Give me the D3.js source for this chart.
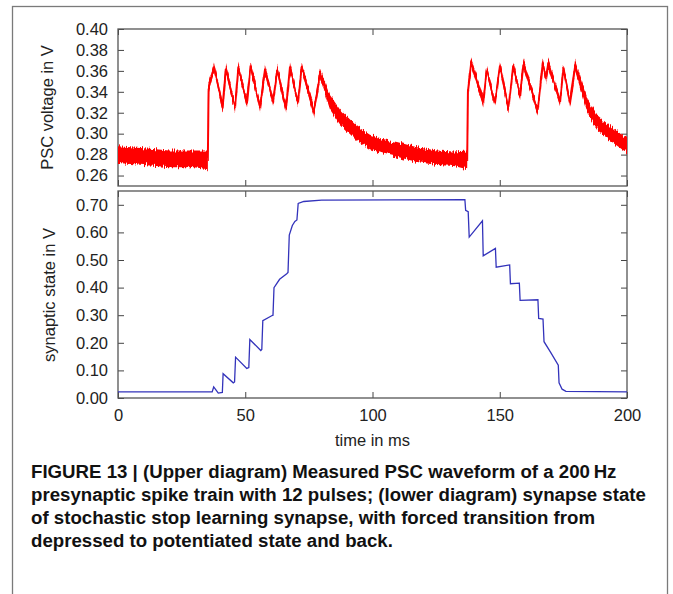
<!DOCTYPE html>
<html>
<head>
<meta charset="utf-8">
<script src="https://cdn.jsdelivr.net/npm/d3@7"></script>
<style>
  body { margin: 0; background: #fff; }
  svg { display: block; }
</style>
</head>
<body>
<svg id="chart" width="673" height="594"></svg>
<script>
// ======================================================================
// DATA
// ======================================================================

var timeTicks = [0, 50, 100, 150, 200];
var pscTicks = [0.26, 0.28, 0.30, 0.32, 0.34, 0.36, 0.38, 0.40];
var stateTicks = [0.0, 0.1, 0.2, 0.3, 0.4, 0.5, 0.6, 0.7];

// PSC trace: [time in ms, voltage in V, half width of the noise band in V]
var pscTrace = [
  [0, 0.280, 0.008], [5, 0.279, 0.008], [10, 0.278, 0.008], [15, 0.277, 0.008],
  [20, 0.276, 0.008], [25, 0.276, 0.008], [30, 0.276, 0.008], [35.3, 0.275, 0.009],
  [35.6, 0.344, 0.004], [37.7, 0.364, 0.004], [41.1, 0.325, 0.004], [42.4, 0.362, 0.004],
  [46.0, 0.325, 0.004], [47.3, 0.364, 0.004], [50.7, 0.329, 0.004], [52.1, 0.365, 0.004],
  [55.8, 0.325, 0.004], [57.8, 0.362, 0.004], [60.9, 0.330, 0.004], [62.6, 0.362, 0.004],
  [66.0, 0.323, 0.004], [67.6, 0.364, 0.004], [70.7, 0.329, 0.004], [72.2, 0.364, 0.004],
  [77.0, 0.321, 0.005], [79.4, 0.358, 0.005], [83.3, 0.330, 0.007], [87.2, 0.316, 0.007],
  [93.9, 0.300, 0.007], [99.0, 0.292, 0.007], [104.1, 0.288, 0.007], [109.6, 0.285, 0.007],
  [117.5, 0.280, 0.007], [125.3, 0.277, 0.007], [132.0, 0.276, 0.007], [137.2, 0.275, 0.009],
  [137.5, 0.340, 0.004], [138.8, 0.368, 0.004], [143.5, 0.330, 0.004], [144.9, 0.361, 0.004],
  [148.1, 0.329, 0.004], [150.1, 0.365, 0.004], [153.4, 0.324, 0.004], [155.3, 0.365, 0.004],
  [158.0, 0.336, 0.004], [159.3, 0.367, 0.004], [164.9, 0.321, 0.004], [166.9, 0.368, 0.004],
  [168.2, 0.352, 0.004], [169.1, 0.367, 0.004], [173.7, 0.330, 0.004], [175.0, 0.363, 0.004],
  [177.6, 0.329, 0.004], [179.6, 0.365, 0.005], [184.7, 0.325, 0.007], [188.6, 0.310, 0.007],
  [194.1, 0.299, 0.007], [198.0, 0.292, 0.007], [200, 0.289, 0.007]
];

// synaptic state trace: [time in ms, state in V]
var stateTrace = [
  [0, 0.022], [37.0, 0.022], [37.6, 0.040], [38.4, 0.030], [39.4, 0.018], [41.0, 0.020],
  [41.3, 0.088], [45.3, 0.055], [45.8, 0.058], [46.2, 0.148], [50.6, 0.107], [51.4, 0.110],
  [51.8, 0.212], [56.1, 0.172], [56.5, 0.176], [56.9, 0.280], [60.4, 0.298], [60.9, 0.300],
  [61.3, 0.400], [63.5, 0.430], [66.3, 0.450], [66.8, 0.455], [67.3, 0.590], [68.5, 0.625],
  [69.5, 0.640], [70.3, 0.645], [70.8, 0.705], [73.0, 0.712], [80.0, 0.717], [136.3, 0.719],
  [136.6, 0.680], [137.6, 0.675], [138.0, 0.583], [143.2, 0.642], [143.5, 0.515], [148.3, 0.542],
  [148.6, 0.474], [153.9, 0.482], [154.2, 0.414], [157.7, 0.416], [158.0, 0.354], [165.0, 0.356],
  [165.3, 0.288], [167.0, 0.286], [167.4, 0.204], [170.0, 0.165], [173.0, 0.119], [173.3, 0.055],
  [174.5, 0.032], [176.0, 0.024], [200, 0.022]
];

var captionLines = [
  "FIGURE 13 | (Upper diagram) Measured PSC waveform of a 200\u2009Hz",
  "presynaptic spike train with 12 pulses; (lower diagram) synapse state",
  "of stochastic stop learning synapse, with forced transition from",
  "depressed to potentiated state and back."
];

// ======================================================================
// LAYOUT
// ======================================================================

var svg = d3.select("#chart");
var plotLeft = 118, plotRight = 627;
var upper = { top: 29, bottom: 186 };
var lower = { top: 191, bottom: 398 };
var tickFont = "'Liberation Sans', Arial, Helvetica, sans-serif";

// outer frame of the figure
svg.append("rect")
    .attr("x", 12.5).attr("y", 6.5)
    .attr("width", 655).attr("height", 620)
    .attr("fill", "none").attr("stroke", "#7a7a7a").attr("stroke-width", 1.3);

var x = d3.scaleLinear().domain([0, 200]).range([plotLeft, plotRight]);
var yPsc = d3.scaleLinear().domain([0.25, 0.40]).range([upper.bottom, upper.top]);
var yState = d3.scaleLinear().domain([0, 0.75]).range([lower.bottom, lower.top]);

// noise texture for the measured PSC trace
var defs = svg.append("defs");
var filt = defs.append("filter").attr("id", "jitter")
    .attr("x", "-2%").attr("y", "-20%").attr("width", "104%").attr("height", "140%")
    .attr("color-interpolation-filters", "sRGB");
filt.append("feTurbulence").attr("type", "fractalNoise")
    .attr("baseFrequency", "0.9 0.06").attr("numOctaves", 2).attr("seed", 4).attr("result", "n");
filt.append("feColorMatrix").attr("in", "n").attr("type", "matrix")
    .attr("values", "0 0 0 0 0.5  0 1 0 0 0  0 0 0 0 0  0 0 0 0 1").attr("result", "m");
filt.append("feDisplacementMap").attr("in", "SourceGraphic").attr("in2", "m")
    .attr("scale", 9).attr("xChannelSelector", "R").attr("yChannelSelector", "G");

function clipFor(id, p) {
    defs.append("clipPath").attr("id", id).append("rect")
        .attr("x", plotLeft).attr("y", p.top)
        .attr("width", plotRight - plotLeft).attr("height", p.bottom - p.top);
}
clipFor("clipUpper", upper);
clipFor("clipLower", lower);

// ======================================================================
// AXES
// ======================================================================

function drawAxes(y, p, yTicks, yFormat, showX) {
    var axes = svg.append("g").attr("font-family", tickFont);

    axes.append("g").attr("transform", "translate(" + plotLeft + ",0)")
        .call(d3.axisLeft(y).tickValues(yTicks).tickSize(-6).tickPadding(10).tickFormat(yFormat));
    axes.append("g").attr("transform", "translate(" + plotRight + ",0)")
        .call(d3.axisRight(y).tickValues(yTicks).tickSize(-6).tickFormat(""));
    axes.append("g").attr("transform", "translate(0," + p.top + ")")
        .call(d3.axisTop(x).tickValues(timeTicks).tickSize(-6).tickFormat(""));
    axes.append("g").attr("transform", "translate(0," + p.bottom + ")")
        .call(d3.axisBottom(x).tickValues(timeTicks).tickSize(-6).tickPadding(11)
            .tickFormat(showX ? d3.format("d") : ""));

    axes.selectAll(".domain").remove();
    axes.selectAll(".tick line").attr("stroke", "#444");
    axes.selectAll(".tick text").attr("font-size", 16.5).attr("fill", "#222");

    svg.append("rect")
        .attr("x", plotLeft).attr("y", p.top)
        .attr("width", plotRight - plotLeft).attr("height", p.bottom - p.top)
        .attr("fill", "none").attr("stroke", "#555").attr("stroke-width", 1.3);
}

drawAxes(yPsc, upper, pscTicks, d3.format(".2f"), false);
drawAxes(yState, lower, stateTicks, d3.format(".2f"), true);

// ======================================================================
// TRACES
// ======================================================================

var pscGroup = svg.append("g").attr("clip-path", "url(#clipUpper)")
    .append("g").attr("filter", "url(#jitter)");

pscGroup.append("path")
    .datum(pscTrace)
    .attr("fill", "#ff0000")
    .attr("d", d3.area()
        .x(function(d) { return x(d[0]); })
        .y0(function(d) { return yPsc(d[1] - d[2]); })
        .y1(function(d) { return yPsc(d[1] + d[2]); }));

pscGroup.append("path")
    .datum(pscTrace)
    .attr("fill", "none")
    .attr("stroke", "#ff0000")
    .attr("stroke-width", 2)
    .attr("d", d3.line()
        .x(function(d) { return x(d[0]); })
        .y(function(d) { return yPsc(d[1]); }));

svg.append("g").attr("clip-path", "url(#clipLower)")
    .append("path")
    .datum(stateTrace)
    .attr("fill", "none")
    .attr("stroke", "#3333bb")
    .attr("stroke-width", 1.3)
    .attr("d", d3.line()
        .x(function(d) { return x(d[0]); })
        .y(function(d) { return yState(d[1]); }));

// ======================================================================
// LABELS
// ======================================================================

svg.append("text")
    .attr("transform", "translate(53," + (upper.top + upper.bottom) / 2 + ") rotate(-90)")
    .attr("text-anchor", "middle")
    .attr("font-family", tickFont).attr("font-size", 16.5).attr("fill", "#222")
    .text("PSC voltage in V");

svg.append("text")
    .attr("transform", "translate(55," + 295 + ") rotate(-90)")
    .attr("text-anchor", "middle")
    .attr("font-family", tickFont).attr("font-size", 16.5).attr("fill", "#222")
    .text("synaptic state in V");

svg.append("text")
    .attr("x", x(100)).attr("y", 446)
    .attr("text-anchor", "middle")
    .attr("font-family", tickFont).attr("font-size", 16.5).attr("fill", "#222")
    .text("time in ms");

// caption: bold sans, squeezed horizontally like a condensed face
var caption = svg.append("g")
    .attr("font-family", tickFont)
    .attr("font-weight", "bold").attr("font-size", 19).attr("fill", "#111");

var captionText = caption.selectAll("text")
    .data(captionLines)
    .enter().append("text")
    .attr("x", 0)
    .attr("y", function(d, i) { return 478 + i * 23; })
    .text(function(d) { return d; });

// second line runs from x=31 to about x=646 in the figure
var widest = captionText.nodes()[1].getComputedTextLength();
caption.attr("transform", "translate(31,0) scale(" + (615 / widest) + ",1)");
</script>
</body>
</html>
